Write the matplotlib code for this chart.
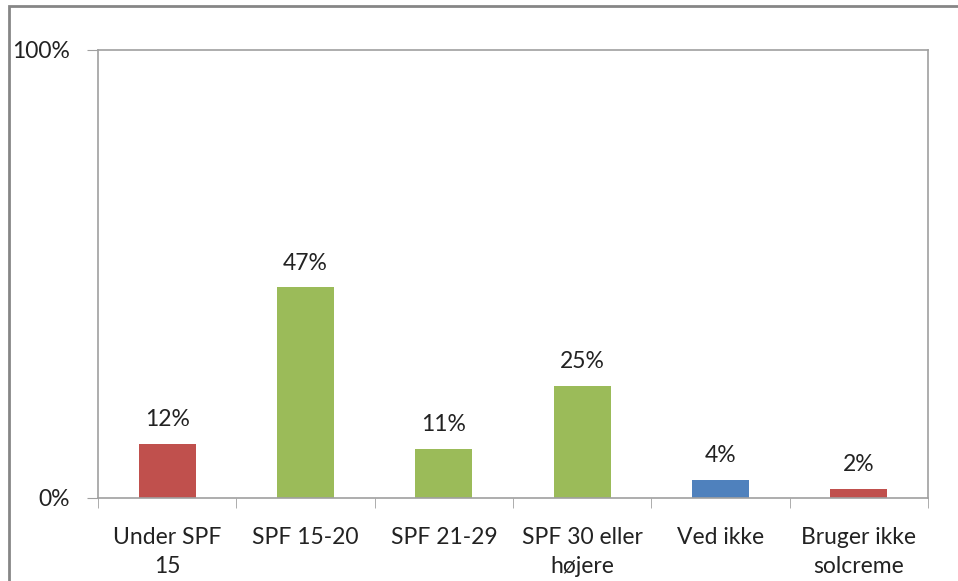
import matplotlib
matplotlib.use('Agg')
import matplotlib.pyplot as plt
from matplotlib.patches import Rectangle

categories = ['Under SPF\n15', 'SPF 15-20', 'SPF 21-29', 'SPF 30 eller\nhøjere', 'Ved ikke', 'Bruger ikke\nsolcreme']
values = [12, 47, 11, 25, 4, 2]
bar_colors = ['#C0504D', '#9BBB59', '#9BBB59', '#9BBB59', '#4F81BD', '#C0504D']

plt.rcParams['font.family'] = ['Lato', 'DejaVu Sans']
fs = 16.5

W, H = 958, 581
fig = plt.figure(figsize=(W / 100, H / 100), dpi=100)
ax = fig.add_axes([98 / W, 1 - 498 / H, (928 - 98) / W, (498 - 50) / H])

# outer chart border (runs off right and bottom)
fig.patches.append(Rectangle((9 / W, -0.1), 1.2, 1 - 6 / H + 0.1, transform=fig.transFigure,
                             fill=False, edgecolor='#868686', linewidth=2))

x = list(range(len(categories)))
ax.bar(x, values, width=0.41, color=bar_colors)
for xi, v in zip(x, values):
    ax.annotate('%d%%' % v, (xi, v), xytext=(0, 10), textcoords='offset points',
                ha='center', va='bottom', fontsize=fs, color='#222222')

ax.set_xlim(-0.5, len(categories) - 0.5)
ax.set_ylim(0, 100)
ax.set_yticks([0, 100])
ax.set_yticklabels(['0%', '100%'], fontsize=fs, color='#222222')
ax.set_xticks(x)
ax.set_xticklabels(categories, fontsize=fs, color='#222222', linespacing=1.45, va='top')
ax.set_xticks([i - 0.5 for i in range(len(categories) + 1)], minor=True)
ax.tick_params(axis='x', which='major', length=0, pad=21)
ax.tick_params(axis='x', which='minor', length=7, color='#A0A0A0', direction='out')
ax.tick_params(axis='y', length=8, color='#A0A0A0', pad=12)

for side in ['left', 'bottom', 'top', 'right']:
    ax.spines[side].set_color('#A0A0A0')
    ax.spines[side].set_linewidth(1.2)

fig.savefig('out.png', dpi=100)
